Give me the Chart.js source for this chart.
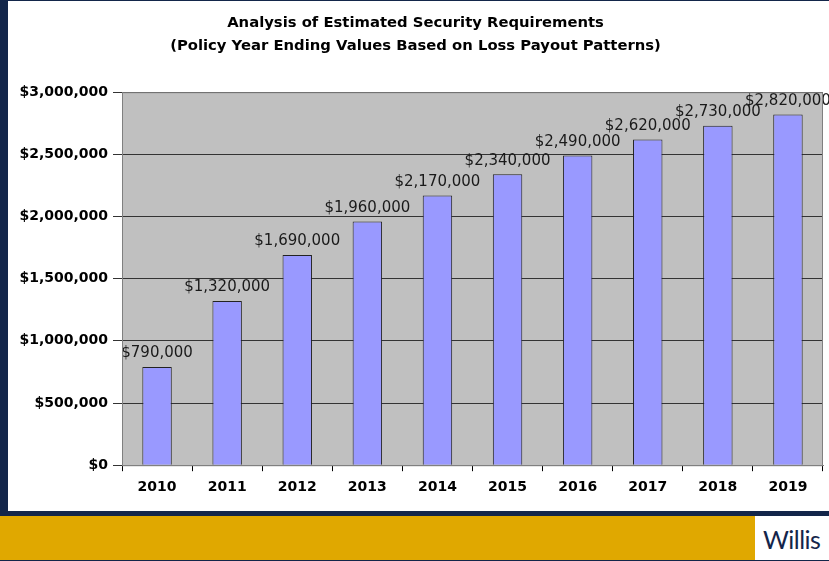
<!DOCTYPE html>
<html>
<head>
<meta charset="utf-8">
<script src="https://cdn.jsdelivr.net/npm/chart.js@4.4.0/dist/chart.umd.min.js"></script>
<style>
  html, body { margin: 0; padding: 0; }
  body { width: 829px; height: 561px; background: #13264a; position: relative; overflow: hidden; }
  #panel { position: absolute; left: 8px; top: 1px; width: 821px; height: 510px; background: #fff; }
  #gold { position: absolute; left: 0; top: 516px; width: 829px; height: 44px; background: #e0a800; }
  #logo { position: absolute; left: 755px; top: 516px; width: 74px; height: 44px; background: #fff;
          font-family: Lato, "Liberation Sans", sans-serif; font-weight: 400; font-size: 25px; color: #14254a;
          line-height: 46px; padding-left: 8px; box-sizing: border-box; letter-spacing: -0.5px; }
</style>
</head>
<body>
<div id="panel"><canvas id="chart" width="821" height="510"></canvas></div>
<div id="gold"></div>
<div id="logo">Willis</div>
<script>
// chart data
const years = ["2010", "2011", "2012", "2013", "2014", "2015", "2016", "2017", "2018", "2019"];
const security = [790000, 1320000, 1690000, 1960000, 2170000, 2340000, 2490000, 2620000, 2730000, 2820000];
const titleLines = [
  "Analysis of Estimated Security Requirements",
  "(Policy Year Ending Values Based on Loss Payout Patterns)"
];

const FONT = "'DejaVu Sans', Verdana, sans-serif";

function money(v) {
  return "$" + v.toLocaleString("en-US");
}

// gray plot background + border
const plotBg = {
  id: "plotBg",
  beforeDraw(chart) {
    const a = chart.chartArea;
    const ctx = chart.ctx;
    ctx.save();
    ctx.fillStyle = "#c0c0c0";
    ctx.fillRect(a.left, a.top, a.right - a.left, a.bottom - a.top);
    ctx.restore();
  },
  afterDraw(chart) {
    const a = chart.chartArea;
    const ctx = chart.ctx;
    ctx.save();
    ctx.strokeStyle = "#808080";
    ctx.lineWidth = 1;
    ctx.strokeRect(a.left + 0.5, a.top + 0.5, a.right - a.left - 1, a.bottom - a.top);
    ctx.restore();
  }
};

// value labels above bars
const barLabels = {
  id: "barLabels",
  afterDatasetsDraw(chart) {
    const ctx = chart.ctx;
    const meta = chart.getDatasetMeta(0);
    ctx.save();
    ctx.font = "15px " + FONT;
    ctx.fillStyle = "#1a1a1a";
    ctx.textAlign = "center";
    ctx.textBaseline = "bottom";
    meta.data.forEach((bar, i) => {
      ctx.fillText(money(security[i]), bar.x, bar.y - 6);
    });
    ctx.restore();
  }
};

const config = {
  type: "bar",
  data: {
    labels: years,
    datasets: [{
      data: security,
      backgroundColor: "#9999ff",
      borderColor: "#222222",
      borderWidth: 1,
      borderSkipped: "bottom",
      categoryPercentage: 1.0,
      barPercentage: 0.42
    }]
  },
  options: {
    responsive: false,
    animation: false,
    layout: { padding: { left: 0, right: 6, top: 6, bottom: 7 } },
    plugins: {
      legend: { display: false },
      tooltip: { enabled: false },
      title: {
        display: true,
        text: titleLines,
        color: "#000",
        font: { family: FONT, size: 14.8, weight: "bold", lineHeight: 1.56 },
        padding: { top: 5, bottom: 34 }
      }
    },
    scales: {
      x: {
        grid: { offset: true, drawOnChartArea: false, drawTicks: true, tickLength: 6, color: "#000" },
        border: { color: "#808080" },
        ticks: {
          color: "#000",
          padding: 8,
          font: { family: FONT, size: 14, weight: "bold" }
        }
      },
      y: {
        min: 0,
        max: 3000000,
        afterFit(scale) { scale.width = 114; },
        grid: { color: "#333333", tickLength: 9, drawTicks: true },
        border: { color: "#808080" },
        ticks: {
          stepSize: 500000,
          color: "#000",
          padding: 5,
          font: { family: FONT, size: 14, weight: "bold" },
          callback: (v) => money(v)
        }
      }
    }
  },
  plugins: [plotBg, barLabels]
};

const securityChart = new Chart(document.getElementById("chart"), config);
</script>
</body>
</html>
